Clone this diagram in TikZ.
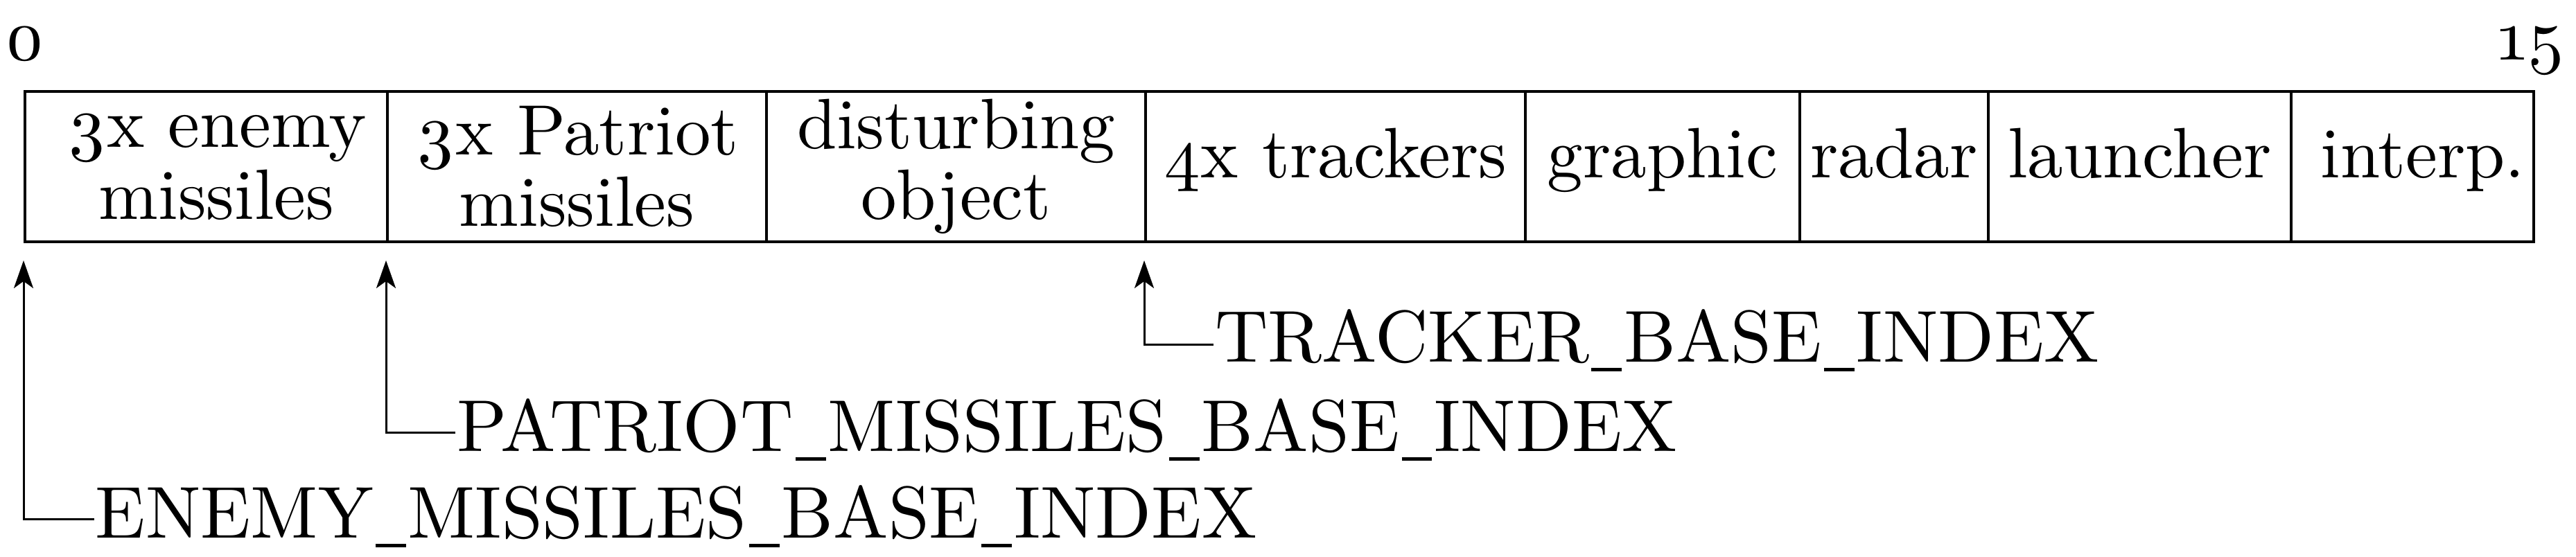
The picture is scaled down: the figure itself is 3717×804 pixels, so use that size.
\documentclass[tikz,border=0pt]{standalone}
\usepackage{fontspec}
\setmainfont{Latin Modern Roman}
\usetikzlibrary{arrows.meta}
\newcommand{\osf}[1]{\oldstylenums{#1}}
\newcommand{\us}{\kern0.3pt\rule[-1.35pt]{4.4pt}{0.5pt}\kern0.3pt}
\begin{document}
\begin{tikzpicture}[x=0.1pt,y=-0.1pt,
  cell/.style={draw,line width=0.4pt,rectangle,inner sep=0pt,anchor=north west,minimum height=21.7pt,
    align=center,font=\fontsize{10.3pt}{8.5pt}\selectfont},
  oneline/.style={text height=6.6pt,text depth=3.3pt},
  idx/.style={inner sep=0pt,font=\fontsize{10.3pt}{10pt}\selectfont},
  lbl/.style={anchor=base west,inner sep=0pt,font=\fontsize{10.6pt}{12pt}\selectfont},
  arr/.style={line width=0.3pt,-{Stealth[length=4pt,width=2.8pt,inset=1pt]}}]
\useasboundingbox (0,0) rectangle (3717,804);
\fill[white] (0,0) rectangle (3717,804);
% cells
\node[cell,minimum width=52.3pt] (c1) at (34,130) {\hspace*{3pt}\osf{3}x enemy\\\hspace*{3pt}missiles};
\node[cell,minimum width=54.7pt] (c2) at (557,130) {\osf{3}x Patriot\\missiles};
\node[cell,minimum width=54.7pt] (c3) at (1104,130) {disturbing\\object};
\node[cell,oneline,minimum width=54.8pt] (c4) at (1651,130) {\osf{4}x trackers};
\node[cell,oneline,minimum width=39.6pt] (c5) at (2199,130) {graphic};
\node[cell,oneline,minimum width=27.2pt] (c6) at (2595,130) {radar};
\node[cell,oneline,minimum width=43.7pt] (c7) at (2867,130) {launcher};
\node[cell,oneline,minimum width=35.0pt] (c8) at (3304,130) {\hspace*{3pt}interp.};
% indices
\node[idx,anchor=base] (n0) at (36,87) {\osf{0}};
\node[idx,anchor=base] (n15) at (3653,87) {\osf{15}};
% labels
\node[lbl] (lT) at (1751,523) {TRACKER\us BASE\us INDEX};
\node[lbl] (lP) at (657,652) {PATRIOT\us MISSILES\us BASE\us INDEX};
\node[lbl] (lE) at (136,777) {ENEMY\us MISSILES\us BASE\us INDEX};
% arrow targets
\coordinate (tE) at ([yshift=-2.5pt]c1.south west);
\coordinate (tP) at ([yshift=-2.5pt]c2.south west);
\coordinate (tT) at ([yshift=-2.5pt]c4.south west);
\draw[arr] ([yshift=2.5pt]lT.base west) -| (tT);
\draw[arr] ([yshift=2.7pt]lP.base west) -| (tP);
\draw[arr] ([yshift=2.7pt]lE.base west) -| (tE);
\end{tikzpicture}
\end{document}
